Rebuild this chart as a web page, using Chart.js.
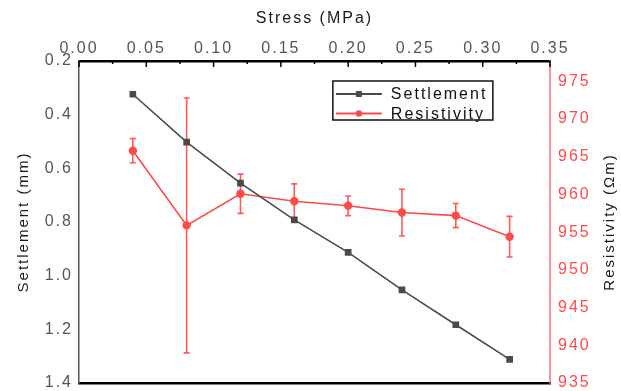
<!DOCTYPE html>
<html><head><meta charset="utf-8">
<script src="https://cdn.jsdelivr.net/npm/chart.js@4/dist/chart.umd.min.js"></script>
<style>html,body{margin:0;padding:0;background:#fff;}canvas{display:block;}</style>
</head><body>
<canvas id="c" width="621" height="391"></canvas>
<script>
// ---- data ----
const stress = [0.04, 0.08, 0.12, 0.16, 0.20, 0.24, 0.28, 0.32];
const settlement = [0.324, 0.502, 0.655, 0.792, 0.913, 1.053, 1.183, 1.312];
const resistivity = [965.8, 955.9, 960.1, 959.1, 958.5, 957.6, 957.2, 954.4];
const resistivityErr = [1.6, 16.9, 2.6, 2.3, 1.3, 3.1, 1.6, 2.7];
const stressTicks = [0.00, 0.05, 0.10, 0.15, 0.20, 0.25, 0.30, 0.35];
const settlementTicks = [0.2, 0.4, 0.6, 0.8, 1.0, 1.2, 1.4];
const resistivityTicks = [935, 940, 945, 950, 955, 960, 965, 970, 975];

const FONT = "'Liberation Sans', Arial, Helvetica, sans-serif";
const LS = '2px';
const RED = '#ff4a4a';
const GRAY = '#4a4a4a';

const setTicks = arr => scale => { scale.ticks = arr.map(v => ({value: v})); };
const noVPad = w => s => { s.width = w; s.paddingTop = 0; s.paddingBottom = 0; };

const spacingPlugin = {
  id: 'spacing',
  beforeLayout(chart) { chart.ctx.letterSpacing = LS; },
  beforeDraw(chart) { chart.ctx.letterSpacing = LS; }
};

const extrasPlugin = {
  id: 'extras',
  beforeDatasetsDraw(chart) {
    // error bars
    const ctx = chart.ctx;
    const meta = chart.getDatasetMeta(1);
    const ys = chart.scales.y1;
    ctx.save();
    ctx.strokeStyle = 'rgba(255,60,60,0.85)';
    ctx.lineWidth = 1.6;
    meta.data.forEach((pt, i) => {
      const x = pt.x;
      const yt = ys.getPixelForValue(resistivity[i] + resistivityErr[i]);
      const yb = ys.getPixelForValue(resistivity[i] - resistivityErr[i]);
      ctx.beginPath();
      ctx.moveTo(x, yt); ctx.lineTo(x, yb);
      ctx.moveTo(x - 3, yt); ctx.lineTo(x + 3, yt);
      ctx.moveTo(x - 3, yb); ctx.lineTo(x + 3, yb);
      ctx.stroke();
    });
    ctx.restore();
  },
  afterDraw(chart) {
    const ctx = chart.ctx;
    const a = chart.chartArea;
    const xs = chart.scales.x;
    ctx.save();
    ctx.letterSpacing = LS;
    // inward tick marks on the top axis (major + minor)
    ctx.strokeStyle = '#000';
    ctx.lineWidth = 1.5;
    for (let i = 0; i < stressTicks.length; i++) {
      const xp = xs.getPixelForValue(stressTicks[i]);
      ctx.beginPath(); ctx.moveTo(xp, a.top); ctx.lineTo(xp, a.top + 6); ctx.stroke();
      if (i < stressTicks.length - 1) {
        const xm = xs.getPixelForValue((stressTicks[i] + stressTicks[i + 1]) / 2);
        ctx.beginPath(); ctx.moveTo(xm, a.top); ctx.lineTo(xm, a.top + 3); ctx.stroke();
      }
    }
    // right axis title (reads bottom to top)
    ctx.save();
    ctx.translate(chart.width - 11, (a.top + a.bottom) / 2);
    ctx.rotate(-Math.PI / 2);
    ctx.font = '15px ' + FONT;
    ctx.fillStyle = '#1a1a1a';
    ctx.textAlign = 'center';
    ctx.textBaseline = 'middle';
    ctx.fillText('Resistivity (\u03A9m)', 0, 0);
    ctx.restore();
    // legend box
    const bx = a.left + (a.right - a.left) * 0.539;
    const by = a.top + 20;
    const bw = 160, bh = 39;
    ctx.strokeStyle = '#111';
    ctx.lineWidth = 1.5;
    ctx.strokeRect(bx, by, bw, bh);
    const items = chart.data.datasets;
    ctx.font = '16px ' + FONT;
    ctx.textBaseline = 'middle';
    ctx.textAlign = 'left';
    items.forEach((ds, k) => {
      const yy = by + 13 + k * 19.5;
      ctx.strokeStyle = ds.borderColor;
      ctx.lineWidth = 2;
      ctx.beginPath(); ctx.moveTo(bx + 3, yy); ctx.lineTo(bx + 49, yy); ctx.stroke();
      ctx.fillStyle = ds.pointBackgroundColor;
      if (ds.pointStyle === 'rect') {
        ctx.fillRect(bx + 23, yy - 3, 6, 6);
      } else {
        ctx.beginPath(); ctx.arc(bx + 26, yy, 3.2, 0, Math.PI * 2); ctx.fill();
      }
      ctx.fillStyle = '#111';
      ctx.fillText(ds.label, bx + 58, yy + 1);
    });
    ctx.restore();
  }
};

new Chart(document.getElementById('c'), {
  type: 'scatter',
  data: {
    datasets: [
      {
        label: 'Settlement',
        data: stress.map((x, i) => ({x, y: settlement[i]})),
        yAxisID: 'y',
        showLine: true,
        borderColor: GRAY,
        backgroundColor: GRAY,
        pointBackgroundColor: GRAY,
        pointBorderColor: GRAY,
        pointStyle: 'rect',
        pointRadius: 3.6,
        borderWidth: 1.6,
        tension: 0
      },
      {
        label: 'Resistivity',
        data: stress.map((x, i) => ({x, y: resistivity[i]})),
        yAxisID: 'y1',
        showLine: true,
        borderColor: RED,
        backgroundColor: RED,
        pointBackgroundColor: RED,
        pointBorderColor: RED,
        pointStyle: 'circle',
        pointRadius: 3.4,
        borderWidth: 1.6,
        tension: 0
      }
    ]
  },
  options: {
    responsive: false,
    animation: false,
    events: [],
    layout: {padding: {left: 0, right: 0, top: 0, bottom: 0}},
    plugins: {legend: {display: false}, tooltip: {enabled: false}},
    scales: {
      x: {
        type: 'linear', position: 'top', min: 0, max: 0.35,
        afterBuildTicks: setTicks(stressTicks),
        grid: {display: false, drawTicks: false},
        border: {display: true, color: '#000', width: 2.5},
        ticks: {color: '#555', font: {family: FONT, size: 16}, padding: 3, maxRotation: 0,
                callback: v => Number(v).toFixed(2)},
        title: {display: true, text: 'Stress (MPa)', color: '#1a1a1a',
                font: {family: FONT, size: 16}, padding: {top: 9, bottom: 0}},
        afterFit: s => { s.height = 61; }
      },
      x2: {
        type: 'linear', position: 'bottom', min: 0, max: 0.35,
        grid: {display: false, drawTicks: false},
        border: {display: true, color: '#000', width: 2.5},
        ticks: {display: false},
        afterFit: s => { s.height = 8; }
      },
      y: {
        type: 'linear', position: 'left', reverse: true, min: 0.2, max: 1.4,
        afterBuildTicks: setTicks(settlementTicks),
        grid: {display: false, drawTicks: false},
        border: {display: true, color: '#555', width: 1.5},
        ticks: {color: '#555', font: {family: FONT, size: 16}, padding: 6,
                callback: v => Number(v).toFixed(1)},
        title: {display: true, text: 'Settlement (mm)', color: '#1a1a1a',
                font: {family: FONT, size: 15}, padding: {top: 15, bottom: 0}},
        afterFit: noVPad(79)
      },
      y1: {
        type: 'linear', position: 'right', min: 935, max: 977.7,
        afterBuildTicks: setTicks(resistivityTicks),
        grid: {display: false, drawTicks: false},
        border: {display: true, color: 'rgba(255,90,90,0.65)', width: 2},
        ticks: {color: RED, font: {family: FONT, size: 16}, padding: 8,
                callback: v => String(v)},
        afterFit: noVPad(71)
      }
    }
  },
  plugins: [spacingPlugin, extrasPlugin]
});
</script>
</body></html>
